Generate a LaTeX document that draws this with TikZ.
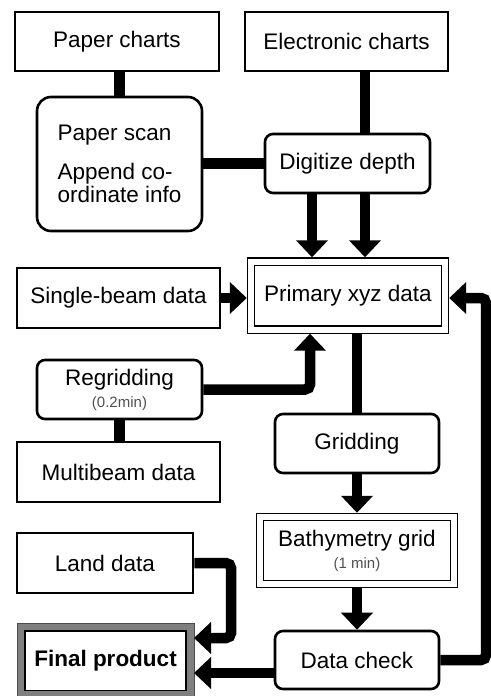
\documentclass[tikz,border=0pt]{standalone}
\usepackage{fontspec}
\setmainfont{Liberation Sans}
\usetikzlibrary{arrows.meta}
\definecolor{framegray}{HTML}{7F7F7F}
\definecolor{notegray}{HTML}{505050}
\begin{document}
\begin{tikzpicture}[x=1pt,y=-1pt,
  box/.style={draw, line width=2.6pt, fill=white, minimum width=#1, minimum height=59pt,
    inner sep=0pt, font=\fontsize{22.5}{26}\selectfont, align=center},
  rbox/.style={box=#1, rounded corners=8pt},
  dbox/.style={draw, line width=1.2pt, double, double distance=6pt, fill=white,
    minimum width=#1, outer sep=4.2pt, inner sep=0pt,
    font=\fontsize{22.5}{26}\selectfont, align=center},
  note/.style={font=\fontsize{15}{17}\selectfont, text=notegray},
  link/.style={line width=10.5pt},
  flow/.style={line width=10.5pt, -{Triangle[width=31pt,length=17pt]}},
]
\fill[white] (0,0) rectangle (490,696);
\useasboundingbox (0,0) rectangle (490,696);

% sources and processing steps
\node[box=204pt] (pc) at (117,41.5) {Paper charts};
\node[box=203pt] (ec) at (346.5,41.5) {Electronic charts};
\node[box=165pt, minimum height=134pt, rounded corners=14pt, align=left] (ps) at (119.5,164)
  {Paper scan\\[13pt]Append co-\\[-3pt]ordinate info};
\node[rbox=165pt] (dd) at (347.5,163.5) {Digitize depth};
\node[box=203pt, minimum height=60pt] (sb) at (118.5,298) {Single-beam data};
\node[dbox=194pt, minimum height=68pt] (px) at (348,295.5) {Primary xyz data};
\node[rbox=165pt] (rg) at (119.5,389.5) {Regridding\\[-4pt]{\fontsize{15}{17}\selectfont\color{notegray}(0.2min)}};
\node[box=203pt, minimum height=60pt] (mb) at (118.5,472) {Multibeam data};
\node[rbox=164pt] (gr) at (357,443.5) {Gridding};
\node[dbox=194.5pt, minimum height=67pt] (bg) at (357,550.5) {Bathymetry grid\\[-4pt]{\fontsize{15}{17}\selectfont\color{notegray}(1 min)}};
\node[box=176pt, minimum height=60pt] (ld) at (105,563) {Land data};
\node[rbox=164pt, minimum height=58pt] (dc) at (357,660) {Data check};

% final product with its grey frame
\node[draw=framegray, line width=8pt, fill=white, minimum width=169pt, minimum height=67.5pt,
  outer sep=4pt, inner sep=0pt, font=\fontsize{22.5}{26}\selectfont\bfseries]
  (fp) at (105.5,660.75) {Final product};
\draw[black!70, line width=1pt] (fp.north west) rectangle (fp.south east);
\draw[line width=1.2pt] ([shift={(8,8)}]fp.north west) rectangle ([shift={(-8,-8)}]fp.south east);

% helper coordinates for connector routes
\coordinate (xe) at (365,0);
\coordinate (xa) at (312,0);
\coordinate (xr) at (310,0);
\coordinate (rr) at (486,298);
\coordinate (lc) at (231,638);
\coordinate (dy) at (0,673);

% connectors
\draw[link] (pc.south -| ps.north) -- (ps.north);
\draw[link] (ec.south -| xe) -- (dd.north -| xe);
\draw[link] (ps.east |- dd.west) -- (dd.west);
\draw[flow] (dd.south -| xa) -- (px.north -| xa);
\draw[flow] (dd.south -| xe) -- (px.north -| xe);
\draw[flow] (sb.east) -- (sb.east -| px.west);
\draw[flow, rounded corners=5pt] (rg.east) -| (px.south -| xr);
\draw[link] (rg.south) -- (rg.south |- mb.north);
\draw[link] (px.south -| gr.north) -- (gr.north);
\draw[flow] (gr.south) -- (bg.north);
\draw[flow] (bg.south) -- (dc.north);
\draw[flow, rounded corners=5pt] (dc.east) -| (rr) -- (rr -| px.east);
\draw[flow, rounded corners=5pt] (ld.east) -| (lc) -- (lc -| fp.east);
\draw[flow] (dc.west |- dy) -- (fp.east |- dy);
\end{tikzpicture}
\end{document}
